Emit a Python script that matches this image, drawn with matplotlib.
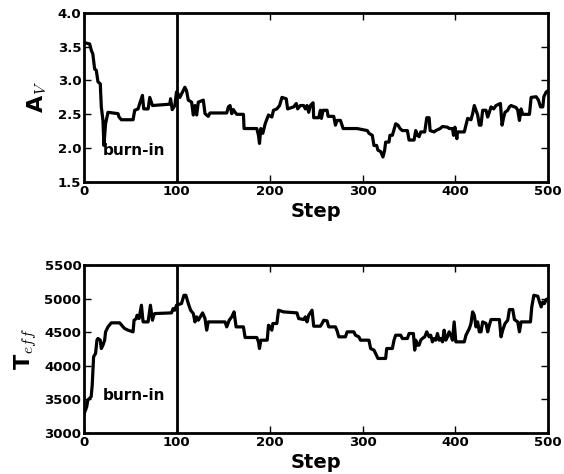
import matplotlib
matplotlib.use("Agg")
import matplotlib.pyplot as plt

plt.rcParams['mathtext.fontset'] = 'cm'
plt.rcParams['font.family'] = ['DejaVu Sans']
plt.rcParams['font.weight'] = 'bold'

av_step = [0, 6, 8, 9.5, 11.4, 13.2, 15, 17.5, 18.6, 20.4, 21.4, 23.2, 25.8, 36.6, 37.7, 40.2, 52.8,
           54.6, 58.2, 60, 62.9, 64.3, 69, 70.8, 73.7, 92.4, 93.2, 95, 97.8, 99.6, 101.4, 103.2,
           106.1, 108.6, 110.4, 112.3, 115.9, 117.7, 119.5, 121.3, 123.1, 128.5, 130.3, 133.8,
           135.7, 153.7, 155.5, 157.3, 159.1, 160.9, 162.7, 164.5, 171.7, 172.4, 186.1, 187.9,
           189, 190.4, 192.6, 195.1, 198.7, 202.3, 204.1, 207.7, 210.6, 213.2, 217.8, 219.3,
           225.8, 228.6, 230.1, 233, 236.6, 238.4, 240.2, 242, 243.8, 246.7, 247.4, 252.8, 254.6,
           255.7, 257.5, 261.8, 262.9, 269, 270.8, 272.6, 276.2, 279.1, 294.2, 305.1, 306.9,
           310.5, 312.3, 315.2, 316.6, 319.5, 322, 323.8, 324.9, 328.5, 329.5, 332.1, 333.2,
           335.7, 338.2, 340.4, 342.9, 348.3, 350.1, 355.5, 357.3, 359.1, 360.9, 362.7, 367,
           369.2, 371.7, 372.8, 377.1, 378.9, 383.6, 386.1, 391.5, 393.3, 396.9, 398, 399.5,
           401.6, 402.3, 409.6, 411.4, 413.2, 416.8, 418.6, 420.4, 422.2, 424, 425.8, 427.6,
           429.4, 433, 434.8, 436.6, 438.4, 441.3, 443.8, 448.5, 450.3, 452.1, 453.5, 456.4,
           458.2, 460, 465.4, 467.2, 469, 470.8, 472.6, 479.8, 481.6, 487, 489.5, 491.7, 494.2,
           495.3, 497.8, 500]
av_vals = [3.56, 3.54, 3.44, 3.39, 3.17, 3.15, 2.98, 2.95, 2.61, 2.41, 2.04, 2.36, 2.53, 2.51, 2.46,
           2.42, 2.42, 2.56, 2.58, 2.66, 2.78, 2.58, 2.58, 2.75, 2.63, 2.65, 2.73, 2.57, 2.63,
           2.83, 2.80, 2.75, 2.83, 2.90, 2.85, 2.71, 2.68, 2.49, 2.63, 2.49, 2.68, 2.71, 2.51,
           2.47, 2.52, 2.52, 2.61, 2.63, 2.51, 2.57, 2.53, 2.50, 2.50, 2.29, 2.29, 2.19, 2.07,
           2.29, 2.22, 2.36, 2.49, 2.46, 2.56, 2.58, 2.63, 2.75, 2.73, 2.58, 2.61, 2.66, 2.58,
           2.63, 2.63, 2.58, 2.63, 2.53, 2.63, 2.67, 2.45, 2.45, 2.56, 2.44, 2.56, 2.56, 2.47,
           2.47, 2.34, 2.41, 2.41, 2.29, 2.29, 2.26, 2.22, 2.19, 2.04, 2.04, 1.97, 1.95, 1.87,
           1.97, 2.09, 2.09, 2.19, 2.19, 2.24, 2.36, 2.34, 2.29, 2.26, 2.26, 2.12, 2.12, 2.26,
           2.19, 2.17, 2.24, 2.24, 2.45, 2.45, 2.26, 2.24, 2.26, 2.29, 2.32, 2.31, 2.29, 2.29,
           2.19, 2.31, 2.14, 2.24, 2.24, 2.34, 2.44, 2.42, 2.51, 2.63, 2.56, 2.49, 2.34, 2.34,
           2.56, 2.56, 2.46, 2.53, 2.61, 2.58, 2.63, 2.66, 2.34, 2.46, 2.53, 2.56, 2.61, 2.63,
           2.60, 2.56, 2.41, 2.58, 2.50, 2.50, 2.75, 2.76, 2.71, 2.61, 2.61, 2.76, 2.83, 2.85]

teff_step = [0, 2.9, 4.1, 5.9, 7.7, 8.8, 10.3, 12.4, 13.9, 15, 17.5, 18.6, 20.4, 22.2, 23.2, 25.8,
             29.4, 38.4, 42, 43.8, 47.4, 52.8, 53.9, 56.4, 57.1, 59.3, 61.8, 63.6, 69, 71.5, 73.7,
             75.1, 76.2, 94.2, 96, 97.8, 99.6, 105, 107.6, 109.7, 112.3, 114.8, 117.7, 119.5,
             121.3, 123.1, 127.7, 130.3, 132.1, 133.8, 151.9, 153.7, 156.4, 159.1, 161.6, 163.8,
             171.7, 173.5, 186.1, 187.9, 189, 190.4, 197.3, 198.7, 200.5, 202.3, 203.4, 207.7,
             209.5, 214.9, 229.3, 231.2, 236.6, 238.4, 240.2, 242, 245.6, 247.4, 254.6, 256.4,
             258.2, 261.8, 263.6, 270.8, 272.6, 274.4, 281.6, 283.4, 290.6, 292.4, 296, 297.8,
             306.9, 308.7, 312.3, 314.1, 316.6, 324.9, 326, 332.1, 333.9, 335.7, 341.1, 342.9,
             348.3, 350.1, 354.8, 356.2, 357.3, 359.1, 360.9, 362.7, 364.4, 367, 369.2, 371.7,
             373.5, 375.3, 377.1, 378.9, 380.7, 382.5, 384.3, 386.1, 387.9, 389.7, 391.5, 393.3,
             395.1, 396.9, 398.7, 400.5, 402.3, 409.6, 411.4, 415, 416.8, 418.6, 420.4, 422.2,
             424, 425.8, 427.6, 429.4, 433, 434.8, 436.6, 438.4, 447.4, 449.2, 451, 453.5, 456.4,
             458.2, 461.8, 463.6, 467.2, 469, 470.8, 480.9, 482.3, 484.5, 488.8, 490.6, 492.4,
             494.2, 496, 497.8, 500]
teff_vals = [3282, 3391, 3490, 3515, 3540, 3713, 4134, 4183, 4381, 4406, 4381, 4257, 4307, 4381,
             4505, 4579, 4639, 4639, 4579, 4554, 4530, 4505, 4678, 4703, 4752, 4703, 4901, 4653,
             4653, 4901, 4678, 4752, 4777, 4787, 4851, 4827, 4901, 4926, 5049, 5049, 4926, 4827,
             4777, 4653, 4728, 4678, 4787, 4703, 4530, 4653, 4653, 4579, 4678, 4728, 4802, 4579,
             4579, 4421, 4421, 4356, 4257, 4381, 4381, 4604, 4579, 4530, 4629, 4629, 4827, 4802,
             4787, 4703, 4688, 4728, 4653, 4752, 4827, 4589, 4589, 4629, 4678, 4668, 4579, 4579,
             4520, 4431, 4431, 4505, 4505, 4455, 4431, 4381, 4381, 4257, 4233, 4183, 4109, 4109,
             4257, 4257, 4381, 4455, 4455, 4406, 4406, 4480, 4480, 4233, 4381, 4307, 4307, 4381,
             4406, 4431, 4505, 4431, 4455, 4356, 4406, 4381, 4480, 4381, 4406, 4356, 4530, 4381,
             4431, 4505, 4455, 4381, 4653, 4356, 4356, 4356, 4455, 4554, 4629, 4802, 4752, 4579,
             4653, 4505, 4505, 4653, 4629, 4505, 4604, 4688, 4688, 4431, 4530, 4629, 4678, 4837,
             4837, 4688, 4653, 4505, 4653, 4653, 4876, 5049, 5035, 4950, 4876, 4950, 4926, 4985,
             5000]

burn_in = 100
av_ticks = [1.5, 2.0, 2.5, 3.0, 3.5, 4.0]
teff_ticks = [3000, 3500, 4000, 4500, 5000, 5500]
x_ticks = [0, 100, 200, 300, 400, 500]

fig = plt.figure(figsize=(5.64, 4.74), dpi=100)
ax1 = fig.add_axes([0.149, 0.616, 0.823, 0.357])
ax2 = fig.add_axes([0.149, 0.0865, 0.823, 0.3545])


def style(ax, yticks, fmt):
    for s in ax.spines.values():
        s.set_linewidth(2)
    ax.tick_params(direction='in', top=True, right=True, length=5, width=1,
                   labelsize=9.5, pad=2)
    ax.set_xlim(0, 500)
    ax.set_xticks(x_ticks)
    ax.set_yticks(yticks)
    ax.set_yticklabels([fmt(v) for v in yticks], fontweight='bold')
    ax.set_xticklabels([str(v) for v in x_ticks], fontweight='bold')
    ax.set_xlabel('Step', fontsize=14, fontweight='bold', labelpad=3)


ax1.plot(av_step, av_vals, color='black', lw=2.3)
ax1.axvline(burn_in, color='black', lw=2)
ax1.set_ylim(1.5, 4.0)
style(ax1, av_ticks, lambda v: f'{v:.1f}')
ax1.set_ylabel(r'A$_V$', fontsize=16, fontweight='bold', labelpad=6)
ax1.text(20, 1.97, 'burn-in', fontsize=11, fontweight='bold', va='center', ha='left')

ax2.plot(teff_step, teff_vals, color='black', lw=2.3)
ax2.axvline(burn_in, color='black', lw=2)
ax2.set_ylim(3000, 5500)
style(ax2, teff_ticks, lambda v: f'{v:d}')
ax2.set_ylabel(r'T$_{eff}$', fontsize=16, fontweight='bold', labelpad=4)
ax2.text(20, 3565, 'burn-in', fontsize=11, fontweight='bold', va='center', ha='left')

fig.savefig('out.png', dpi=100, facecolor='white')
